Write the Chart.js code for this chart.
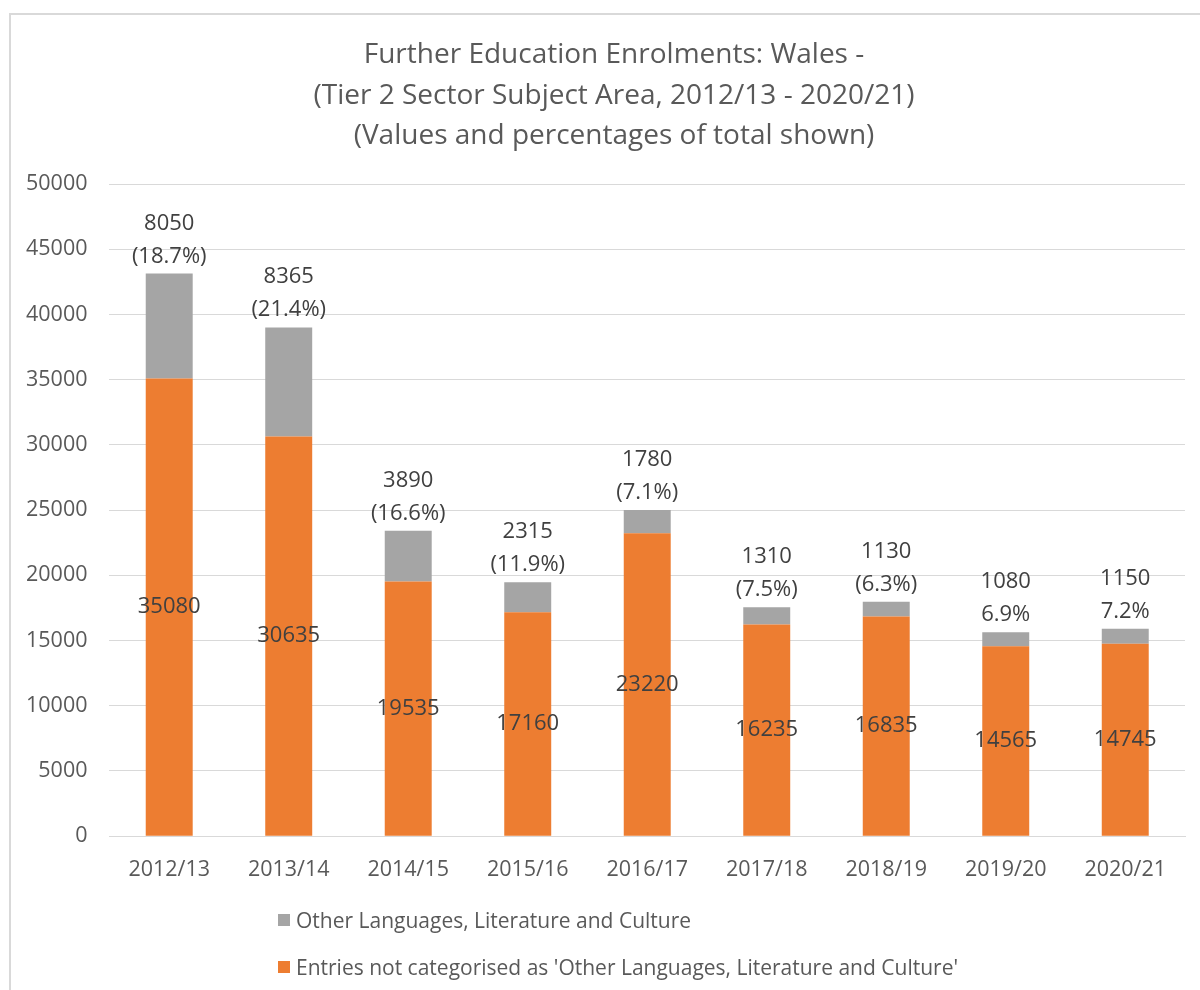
<!DOCTYPE html>
<html>
<head>
<meta charset="utf-8">
<script src="https://cdn.jsdelivr.net/npm/chart.js@4.4.1/dist/chart.umd.min.js"></script>
<style>
  html, body { margin: 0; padding: 0; background: #fff; overflow: hidden; }
  #wrap { position: relative; width: 1200px; height: 990px; overflow: hidden; }
  #frame { position: absolute; left: 9px; top: 13px; width: 1200px; height: 990px; border: 2px solid #d9d9d9; box-sizing: border-box; pointer-events: none; }
  #title { position: absolute; left: 0; top: 32px; width: 1228px; text-align: center; font-family: "Open Sans", sans-serif; font-size: 28px; line-height: 40.5px; color: #595959; white-space: nowrap; }
  #legend { position: absolute; left: 278px; top: 905px; font-family: "Open Sans", sans-serif; font-size: 21px; color: #595959; }
  .item { display: flex; align-items: center; height: 30px; margin-bottom: 17px; }
  .box { width: 12px; height: 12px; margin-right: 6px; }
</style>
</head>
<body>
<div id="wrap">
  <canvas id="chart" width="1200" height="990"></canvas>
  <div id="frame"></div>
  <div id="title"></div>
  <div id="legend"></div>
</div>
<script>
// data
const years = ["2012/13", "2013/14", "2014/15", "2015/16", "2016/17", "2017/18", "2018/19", "2019/20", "2020/21"];
const otherEntries = [35080, 30635, 19535, 17160, 23220, 16235, 16835, 14565, 14745];
const olcEntries = [8050, 8365, 3890, 2315, 1780, 1310, 1130, 1080, 1150];
const olcShare = ["(18.7%)", "(21.4%)", "(16.6%)", "(11.9%)", "(7.1%)", "(7.5%)", "(6.3%)", "6.9%", "7.2%"];

const titleLines = [
    "Further Education Enrolments: Wales -",
    "(Tier 2 Sector Subject Area, 2012/13 - 2020/21)",
    "(Values and percentages of total shown)"
];
const seriesNames = [
    "Entries not categorised as 'Other Languages, Literature and Culture'",
    "Other Languages, Literature and Culture"
];

const ORANGE = '#ED7D31';
const GREY = '#A5A5A5';
const FONT = '"Open Sans", sans-serif';

// value labels drawn on the bars
const barLabels = {
    id: 'barLabels',
    afterDatasetsDraw(chart) {
        const ctx = chart.ctx;
        ctx.save();
        ctx.font = '22px ' + FONT;
        ctx.fillStyle = '#404040';
        ctx.textAlign = 'center';

        chart.getDatasetMeta(0).data.forEach((bar, i) => {
            ctx.textBaseline = 'middle';
            ctx.fillText(otherEntries[i], bar.x, (bar.y + bar.base) / 2);
        });

        chart.getDatasetMeta(1).data.forEach((bar, i) => {
            ctx.textBaseline = 'alphabetic';
            ctx.fillText(olcShare[i], bar.x, bar.y - 11);
            ctx.fillText(olcEntries[i], bar.x, bar.y - 44);
        });
        ctx.restore();
    }
};

const data = {
    labels: years,
    datasets: [{
        label: seriesNames[0],
        data: otherEntries,
        backgroundColor: ORANGE,
        categoryPercentage: 1,
        barPercentage: 0.393
    }, {
        label: seriesNames[1],
        data: olcEntries,
        backgroundColor: GREY,
        categoryPercentage: 1,
        barPercentage: 0.393
    }]
};

const config = {
    type: 'bar',
    data,
    options: {
        responsive: false,
        animation: false,
        layout: {
            padding: { left: 4, right: 15, top: 184, bottom: 94 }
        },
        plugins: {
            legend: { display: false },
            tooltip: { enabled: false },
            title: { display: false }
        },
        scales: {
            x: {
                stacked: true,
                grid: { display: false },
                border: { color: '#d9d9d9' },
                ticks: { color: '#595959', font: { family: FONT, size: 21.5 }, padding: 13 }
            },
            y: {
                stacked: true,
                min: 0,
                max: 50000,
                border: { display: false },
                grid: { color: '#d9d9d9', drawTicks: false },
                ticks: {
                    stepSize: 5000,
                    color: '#595959',
                    font: { family: FONT, size: 21.5 },
                    padding: 22,
                    callback: (v) => String(v)
                }
            }
        }
    },
    plugins: [barLabels]
};

const myChart = new Chart(document.getElementById('chart'), config);

// title
const title = document.getElementById('title');
titleLines.forEach(t => {
    const line = document.createElement('div');
    line.textContent = t;
    title.appendChild(line);
});

// legend, grey first like the original
const legend = document.getElementById('legend');
[1, 0].forEach(i => {
    const row = document.createElement('div');
    row.className = 'item';
    const box = document.createElement('span');
    box.className = 'box';
    box.style.background = data.datasets[i].backgroundColor;
    row.appendChild(box);
    row.appendChild(document.createTextNode(seriesNames[i]));
    legend.appendChild(row);
});
</script>
</body>
</html>
